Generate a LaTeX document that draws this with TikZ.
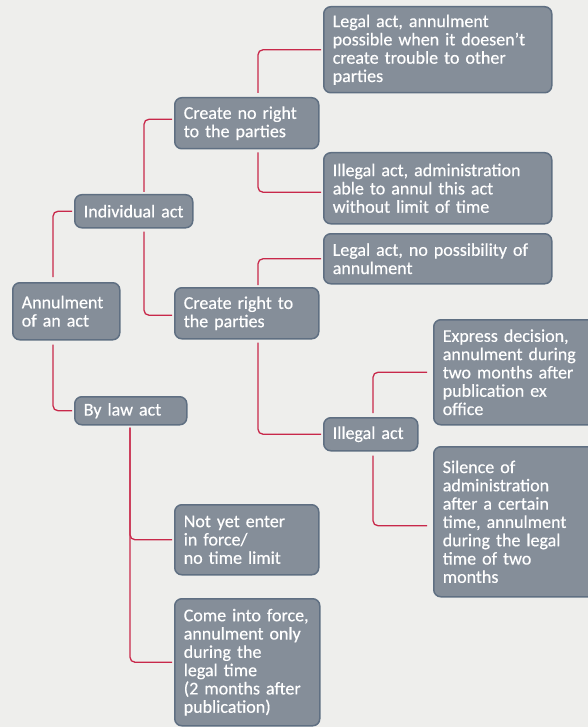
\documentclass[tikz,border=0pt]{standalone}
\usepackage{fontspec}
\setmainfont[FakeBold=0.4]{Carlito}
\definecolor{paper}{HTML}{EEEEEC}
\definecolor{boxfill}{HTML}{858E99}
\definecolor{boxline}{HTML}{5F6F82}
\definecolor{branch}{HTML}{C8284A}
\begin{document}
\begin{tikzpicture}[x=1pt, y=-1pt, thick]
        \tikzstyle{block} = [rectangle, draw=boxline, fill=boxfill, line width=1.5pt, rounded corners=7pt, anchor=north west, inner xsep=9pt, inner ysep=2pt, align=left, text=white, font=\fontsize{18}{18.3}\selectfont]
        \tikzstyle{link} = [draw=branch, line width=1.3pt, rounded corners=5pt, shorten >=2pt]
        \useasboundingbox (0,0) rectangle (588,727);
        \clip (0,0) rectangle (588,727);
        \fill[paper] (0,0) rectangle (588,727);
        % first level
        \node[block, text width=89pt, minimum height=57pt] (annul) at (12,282) {Annulment\\of an act};
        \node[block, inner xsep=7pt, text width=104pt, minimum height=33pt] (indiv) at (74,194) {\hspace*{2pt}Individual act};
        \node[block, text width=94pt, minimum height=28pt] (bylaw) at (74,396) {By law act};
        % second level
        \node[block, text width=126pt, minimum height=51pt] (noright) at (174,97) {Create no right\\to the parties};
        \node[block, text width=126pt, minimum height=51pt] (right) at (174,287) {Create right to\\the parties};
        \node[block, text width=126pt, minimum height=70pt] (notyet) at (174,504) {Not yet enter\\in force/\\no time limit};
        \node[block, text width=127pt, minimum height=127pt] (force) at (174,598) {Come into force,\\annulment only\\during the\\legal time\\(2 months after\\publication)};
        % third level
        \node[block, text width=210pt, minimum height=86pt] (legalposs) at (323,6) {Legal act, annulment\\possible when it doesen’t\\create trouble to other\\parties};
        \node[block, text width=210pt, minimum height=71pt] (illegalnolimit) at (323,152) {Illegal act, administration\\able to annul this act\\without limit of time};
        \node[block, text width=210pt, minimum height=50pt] (legalnoposs) at (323,233) {Legal act, no possibility of\\annulment};
        \node[block, text width=76pt, minimum height=33pt] (illegal) at (323,417) {Illegal act};
        % fourth level
        \node[block, text width=152pt, minimum height=105pt] (express) at (433,319) {Express decision,\\annulment during\\two months after\\publication ex\\office};
        \node[block, text width=152pt, minimum height=150pt] (silence) at (433,446) {Silence of\\administration\\after a certain\\time, annulment\\during the legal\\time of two\\months};
        % connectors
        \draw[link] ([xshift=41pt, yshift=5pt]annul.north west) |- (indiv.west);
        \draw[link] ([xshift=41pt, yshift=-4pt]annul.south west) |- (bylaw.west);
        \draw[link] ([xshift=70pt, yshift=2pt]indiv.north west) |- ([yshift=4pt]noright.west);
        \draw[link] ([xshift=70pt, yshift=-3pt]indiv.south west) |- ([yshift=-2pt]right.west);
        \draw[link] ([xshift=56pt, yshift=-2pt]bylaw.south west) |- (notyet.west);
        \draw[link] ([xshift=56pt, yshift=-2pt]bylaw.south west) |- (force.west);
        \draw[link] ([xshift=84pt, yshift=4pt]noright.north west) |- (legalposs.west);
        \draw[link] ([xshift=84pt, yshift=-3pt]noright.south west) |- ([yshift=-4pt]illegalnolimit.west);
        \draw[link] ([xshift=84pt, yshift=2pt]right.north west) |- (legalnoposs.west);
        \draw[link] ([xshift=84pt, yshift=-3pt]right.south west) |- (illegal.west);
        \draw[link, shorten >=6pt] ([xshift=50pt, yshift=4pt]illegal.north west) |- (express.west);
        \draw[link, shorten >=6pt] ([xshift=50pt, yshift=-4pt]illegal.south west) |- ([yshift=-4pt]silence.west);
    \end{tikzpicture}
\end{document}
